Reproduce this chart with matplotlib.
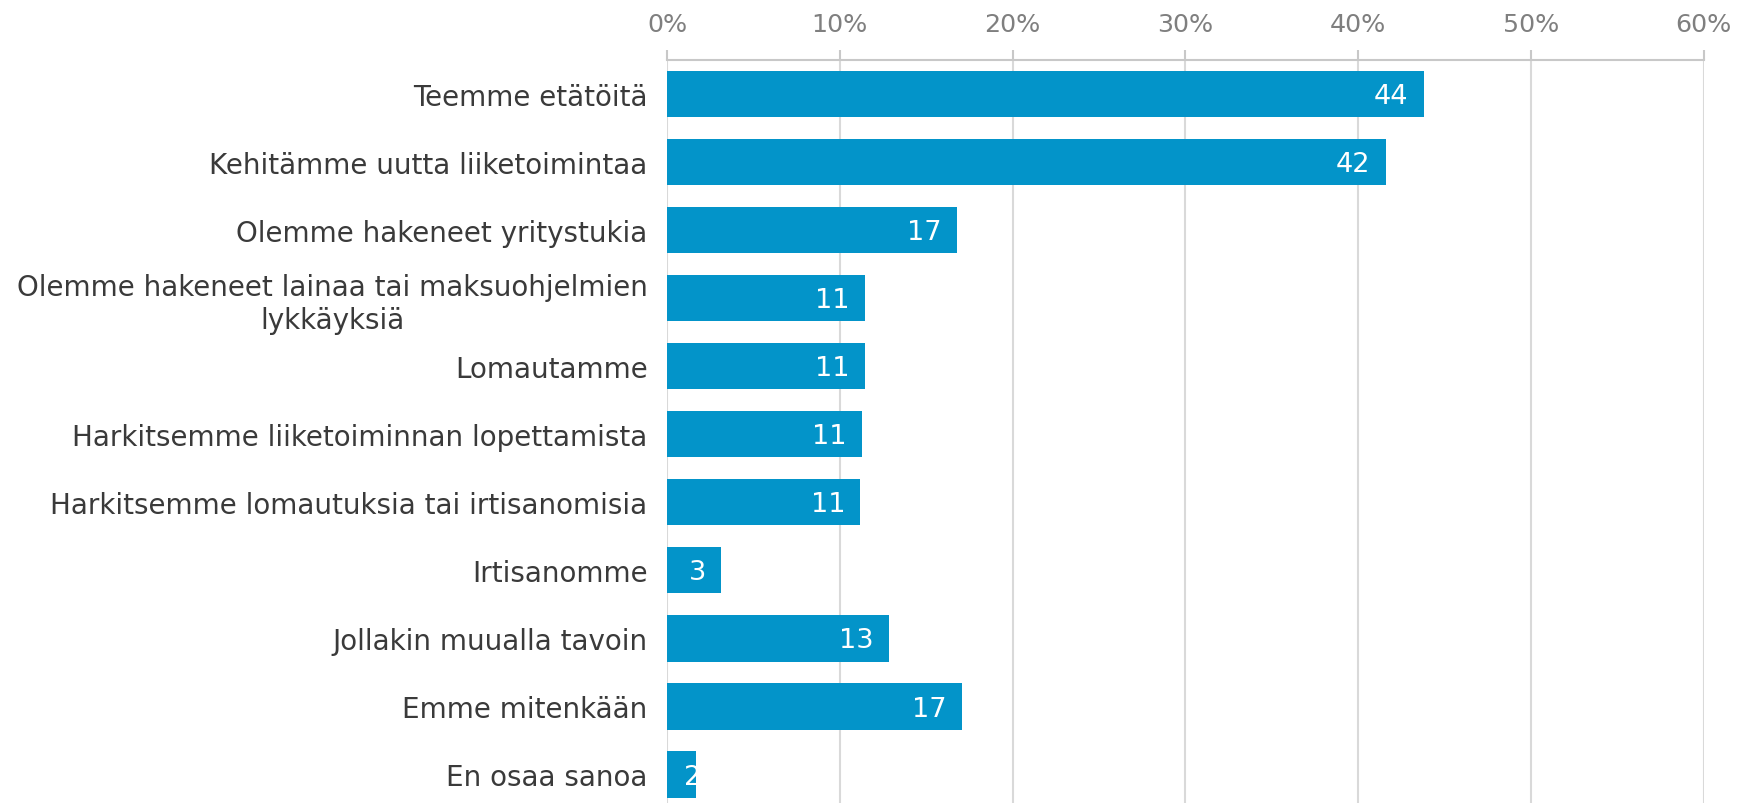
import matplotlib.pyplot as plt
import numpy as np

categories = [
    'Teemme etätöitä',
    'Kehitämme uutta liiketoimintaa',
    'Olemme hakeneet yritystukia',
    'Olemme hakeneet lainaa tai maksuohjelmien\nlykkäyksiä',
    'Lomautamme',
    'Harkitsemme liiketoiminnan lopettamista',
    'Harkitsemme lomautuksia tai irtisanomisia',
    'Irtisanomme',
    'Jollakin muualla tavoin',
    'Emme mitenkään',
    'En osaa sanoa',
]
values = [43.8, 41.6, 16.8, 11.45, 11.45, 11.3, 11.2, 3.15, 12.85, 17.1, 1.65]
xticks = [0, 10, 20, 30, 40, 50, 60]


def main():
    fig = plt.figure(figsize=(17.39, 8.04), dpi=100)
    ax = fig.add_axes([667 / 1739, -5.5 / 804, (1703.5 - 667) / 1739, (804 - 61 + 5.5) / 804])

    y = np.arange(len(categories))
    bars = ax.barh(y, values, height=0.68, color='#0394c9', zorder=2)

    ax.set_xlim(0, 60)
    ax.set_ylim(len(categories) - 0.5, -0.5)

    # value labels inside the bar end
    for bar, v in zip(bars, values):
        cy = bar.get_y() + bar.get_height() / 2
        if v > 2.5:
            ax.annotate(str(int(round(v))), (v, cy), xytext=(-11, -1.5), textcoords='offset points',
                        ha='right', va='center', color='white', fontsize=19.5, zorder=3)
        else:
            t = ax.annotate(str(int(round(v))), (0, cy), xytext=(12, -1.5), textcoords='offset points',
                            ha='left', va='center', color='white', fontsize=19.5, zorder=3)
            t.set_clip_path(bar)

    ax.set_yticks(y)
    ax.set_yticklabels(categories, fontsize=20, color='#3a3a3a', multialignment='center',
                       linespacing=1.2)
    ax.tick_params(axis='y', length=0, pad=14)

    ax.xaxis.tick_top()
    ax.set_xticks(xticks)
    ax.set_xticklabels([f'{t}%' for t in xticks], fontsize=18.3, color='#7f7f7f')
    ax.tick_params(axis='x', direction='out', length=7, width=1.5, color='#c8c8c8', pad=10)

    ax.grid(axis='x', color='#d9d9d9', linewidth=1.5, zorder=0)
    for s in ['left', 'right', 'bottom']:
        ax.spines[s].set_visible(False)
    ax.spines['top'].set_color('#c8c8c8')
    ax.spines['top'].set_linewidth(1.5)

    fig.savefig('out.png', dpi=100)


if __name__ == '__main__':
    main()
